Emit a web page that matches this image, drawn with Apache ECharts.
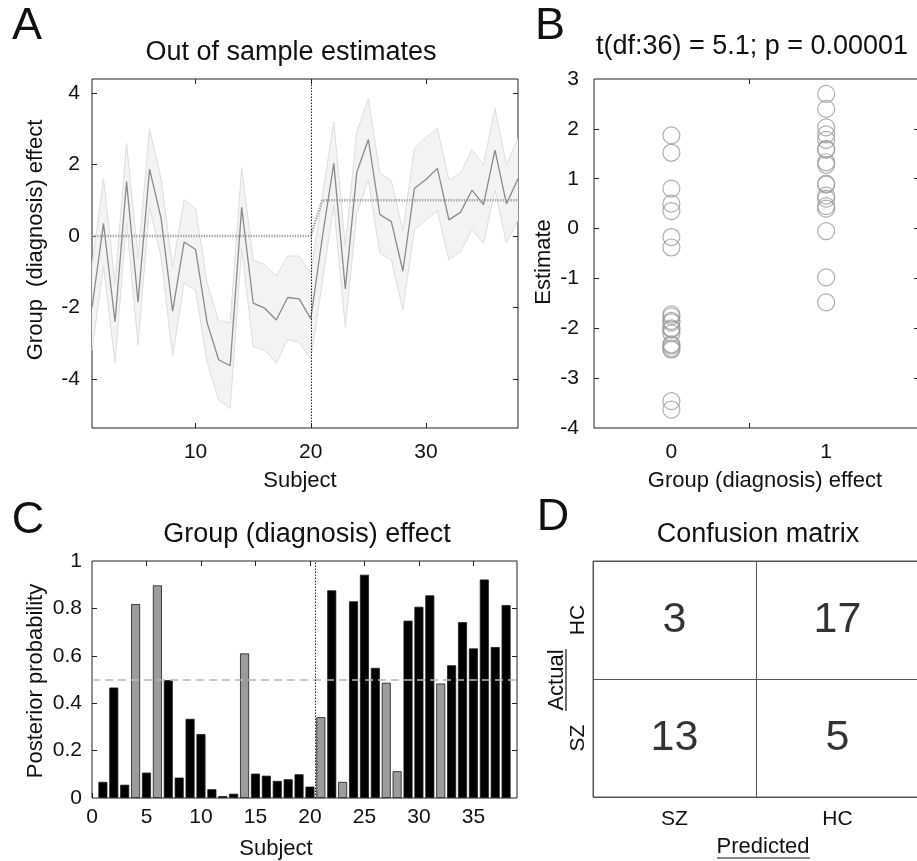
<!DOCTYPE html>
<html>
<head>
<meta charset="utf-8">
<script src="https://cdn.jsdelivr.net/npm/echarts@6/dist/echarts.min.js"></script>
<style>
  html, body { margin: 0; padding: 0; background: #fff; }
  #chart { width: 917px; height: 861px; }
</style>
</head>
<body>
<div id="chart"></div>
<script>
// ---- data ----
const subjects = [1,2,3,4,5,6,7,8,9,10,11,12,13,14,15,16,17,18,19,20,
                  21,22,23,24,25,26,27,28,29,30,31,32,33,34,35,36,37,38];
// true group of each subject (0 = first 20, 1 = last 18)
const groupLabel = [0,0,0,0,0,0,0,0,0,0,0,0,0,0,0,0,0,0,0,0,
                    1,1,1,1,1,1,1,1,1,1,1,1,1,1,1,1,1,1];
// out-of-sample estimate of the group effect per subject
const meanEstimate = [-2.0, 0.35, -2.4, 1.52, -1.85, 1.87, 0.5, -2.1, -0.17, -0.38,
                      -2.43, -3.46, -3.63, 0.8, -1.88, -2.02, -2.35, -1.72, -1.76, -2.32,
                      -0.05, 2.03, -1.48, 1.78, 2.7, 0.6, 0.4, -0.98, 1.33, 1.58,
                      1.89, 0.45, 0.66, 1.28, 0.88, 2.4, 0.9, 1.6];
const upperBound = [-0.85, 1.6, -1.3, 2.6, -0.6, 3.0, 1.6, -0.88, 1.02, 0.76,
                    -1.32, -2.37, -2.42, 1.91, -0.67, -0.8, -1.12, -0.56, -0.56, -1.05,
                    1.1, 3.2, -0.28, 2.92, 3.85, 1.75, 1.55, 0.15, 2.45, 2.75,
                    3.01, 1.57, 1.75, 2.42, 1.99, 3.57, 1.99, 2.73];
const lowerBound = [-3.2, -0.85, -3.55, 0.4, -3.05, 0.82, -0.6, -3.36, -1.32, -1.51,
                    -3.55, -4.59, -4.82, -0.35, -3.1, -3.19, -3.56, -2.89, -2.98, -3.45,
                    -1.3, 0.85, -2.55, 0.63, 1.57, -0.48, -0.67, -2.07, 0.17, 0.45,
                    0.7, -0.67, -0.44, 0.17, -0.2, 1.29, -0.2, 0.45];
// posterior probability of belonging to group 1
const posteriorProb = [0.068, 0.466, 0.056, 0.818, 0.107, 0.897, 0.497, 0.086, 0.334, 0.27,
                       0.037, 0.008, 0.018, 0.61, 0.103, 0.094, 0.072, 0.079, 0.1, 0.048,
                       0.341, 0.876, 0.068, 0.83, 0.942, 0.549, 0.486, 0.113, 0.748, 0.807,
                       0.855, 0.483, 0.56, 0.742, 0.631, 0.922, 0.637, 0.814];
// confusion matrix: [predicted index, actual index, count]
const classNames = ['SZ', 'HC'];
const confusionCells = [[0, 1, 3], [1, 1, 17], [0, 0, 13], [1, 0, 5]];

// tick positions
const aXTicks = [10, 20, 30];
const aYTicks = [-4, -2, 0, 2, 4];
const bXLabels = [0, 1];
const bXTicks = [0.5];
const bYTicks = [-4, -3, -2, -1, 0, 1, 2, 3];
const cXTicks = [0, 5, 10, 15, 20, 25, 30, 35];
const cYTicks = [0, 0.2, 0.4, 0.6, 0.8, 1];

// ---- styling helpers ----
const FONT = '"Liberation Sans", Arial, sans-serif';
const INK = '#111';

function mainAxis(gridIndex, position, min, max, tickVals, labelVals, margin) {
  return {
    type: 'value', gridIndex, position, min, max,
    axisLine: { show: false, onZero: false },
    splitLine: { show: false },
    axisTick: { show: true, inside: true, length: 5, customValues: tickVals,
                lineStyle: { color: '#222', width: 1 } },
    axisLabel: { show: true, customValues: labelVals, margin,
                 fontSize: 21, fontFamily: FONT, color: INK,
                 formatter: v => String(v) }
  };
}
function mirrorAxis(gridIndex, position, min, max, tickVals) {
  return {
    type: 'value', gridIndex, position, min, max,
    axisLine: { show: false, onZero: false },
    splitLine: { show: false },
    axisTick: { show: true, inside: true, length: 5, customValues: tickVals,
                lineStyle: { color: '#222', width: 1 } },
    axisLabel: { show: false }
  };
}
function txt(x, y, text, size, rot) {
  return {
    type: 'text', x, y, rotation: rot || 0, silent: true,
    style: { text, fontSize: size, fontFamily: FONT, fill: INK,
             align: 'center', verticalAlign: 'middle' }
  };
}
function rule(x1, y1, x2, y2) {
  return { type: 'line', silent: true, shape: { x1, y1, x2, y2 },
           style: { stroke: INK, lineWidth: 1.2 } };
}

const frame = { show: true, borderColor: '#222', borderWidth: 1,
                backgroundColor: 'transparent', outerBoundsMode: 'none', containLabel: false };

const misclassified = subjects.map((s, i) => (posteriorProb[i] > 0.5 ? 1 : 0) !== groupLabel[i]);

// shaded band between lowerBound and upperBound, projected through the axes
function renderBand(params, api) {
  const pts = [];
  subjects.forEach((s, i) => pts.push(api.coord([s, upperBound[i]])));
  for (let i = subjects.length - 1; i >= 0; i--) pts.push(api.coord([subjects[i], lowerBound[i]]));
  return { type: 'polygon', shape: { points: pts }, style: { fill: '#f3f3f3', stroke: 'none' } };
}

const option = {
  animation: false,
  backgroundColor: '#fff',
  grid: [
    Object.assign({ left: 92, top: 79, width: 426, height: 349 }, frame),
    Object.assign({ left: 594, top: 79, width: 325, height: 349 }, frame),
    Object.assign({ left: 92, top: 561, width: 425, height: 237 }, frame),
    Object.assign({}, frame, { left: 593, top: 561, width: 326, height: 236, borderColor: '#555' })
  ],
  xAxis: [
    mainAxis(0, 'bottom', 1, 38, aXTicks, aXTicks, 14),
    mirrorAxis(0, 'top', 1, 38, aXTicks),
    mainAxis(1, 'bottom', -0.5, 1.6, bXTicks, bXLabels, 14),
    mirrorAxis(1, 'top', -0.5, 1.6, bXTicks),
    mainAxis(2, 'bottom', 0, 39, cXTicks, cXTicks, 9),
    mirrorAxis(2, 'top', 0, 39, cXTicks.filter(v => v > 0)),
    {
      type: 'category', gridIndex: 3, data: classNames,
      axisLine: { show: false }, axisTick: { show: false },
      splitLine: { show: true, lineStyle: { color: '#555', width: 1 } },
      axisLabel: { margin: 12, fontSize: 21, fontFamily: FONT, color: INK }
    }
  ],
  yAxis: [
    mainAxis(0, 'left', -5.37, 4.39, aYTicks, aYTicks, 12),
    mirrorAxis(0, 'right', -5.37, 4.39, aYTicks),
    mainAxis(1, 'left', -4, 3, bYTicks.filter(v => v > -4 && v < 3), bYTicks, 15),
    mirrorAxis(1, 'right', -4, 3, bYTicks.filter(v => v > -4 && v < 3)),
    mainAxis(2, 'left', 0, 1, cYTicks.filter(v => v > 0 && v < 1), cYTicks, 10),
    mirrorAxis(2, 'right', 0, 1, cYTicks.filter(v => v > 0 && v < 1)),
    {
      type: 'category', gridIndex: 3, data: classNames,
      axisLine: { show: false }, axisTick: { show: false },
      splitLine: { show: true, lineStyle: { color: '#555', width: 1 } },
      axisLabel: { margin: 4, rotate: 90, fontSize: 21, fontFamily: FONT, color: INK }
    }
  ],
  series: [
    // A: credible band
    {
      type: 'custom', xAxisIndex: 0, yAxisIndex: 0, silent: true, z: 1,
      data: [[subjects[0], lowerBound[0]]],
      renderItem: renderBand
    },
    {
      type: 'line', xAxisIndex: 0, yAxisIndex: 0, silent: true, symbol: 'none', z: 2,
      data: subjects.map((s, i) => [s, upperBound[i]]),
      lineStyle: { color: '#dedede', width: 1 }
    },
    {
      type: 'line', xAxisIndex: 0, yAxisIndex: 0, silent: true, symbol: 'none', z: 2,
      data: subjects.map((s, i) => [s, lowerBound[i]]),
      lineStyle: { color: '#dedede', width: 1 }
    },
    // A: true group membership
    {
      type: 'line', xAxisIndex: 0, yAxisIndex: 0, silent: true, symbol: 'none', z: 3,
      data: subjects.map((s, i) => [s, groupLabel[i]]),
      lineStyle: { color: '#a3a3a3', width: 2.5, type: [1.3, 1.3] },
      markLine: {
        silent: true, symbol: ['none', 'none'], label: { show: false },
        lineStyle: { color: '#222', width: 1, type: [1.5, 1.5] },
        data: [{ xAxis: 20 }]
      }
    },
    // A: mean estimate
    {
      type: 'line', xAxisIndex: 0, yAxisIndex: 0, silent: true, symbol: 'none', z: 4,
      data: subjects.map((s, i) => [s, meanEstimate[i]]),
      lineStyle: { color: '#8a8a8a', width: 1.3 }
    },
    // B: estimates by group
    {
      type: 'scatter', xAxisIndex: 2, yAxisIndex: 2, silent: true,
      symbol: 'circle', symbolSize: 17,
      data: subjects.map((s, i) => [groupLabel[i], meanEstimate[i]]),
      itemStyle: { color: 'rgba(255,255,255,0)', borderColor: '#9a9a9a', borderWidth: 1.2 }
    },
    // C: posterior probabilities
    {
      type: 'bar', xAxisIndex: 4, yAxisIndex: 4, silent: true, barWidth: 9,
      data: subjects.map((s, i) => ({
        value: [s, posteriorProb[i]],
        itemStyle: { color: misclassified[i] ? '#9c9c9c' : '#000',
                     borderColor: '#1a1a1a', borderWidth: 0.8 }
      })),
      markLine: {
        silent: true, symbol: ['none', 'none'], label: { show: false },
        data: [
          { yAxis: 0.5, lineStyle: { color: '#b8b8b8', width: 1.6, type: [8, 5] } },
          { xAxis: 20.5, lineStyle: { color: '#222', width: 1, type: [1.5, 1.5] } }
        ]
      }
    },
    // D: confusion counts
    {
      type: 'scatter', xAxisIndex: 6, yAxisIndex: 6, silent: true,
      symbol: 'rect', symbolSize: 1, itemStyle: { color: 'rgba(0,0,0,0)' },
      data: confusionCells,
      label: { show: true, position: 'inside', formatter: p => String(p.value[2]),
               fontSize: 43, fontFamily: FONT, color: '#000' }
    }
  ],
  graphic: [
    txt(27, 27, 'A', 45), txt(550, 27, 'B', 45),
    txt(28, 521, 'C', 45), txt(553, 518, 'D', 45),
    txt(291, 53, 'Out of sample estimates', 27),
    txt(752, 47, 't(df:36) = 5.1; p = 0.00001', 27),
    txt(307, 535, 'Group (diagnosis) effect', 27),
    txt(758, 535, 'Confusion matrix', 27),
    txt(36, 240, 'Group  (diagnosis) effect', 22, Math.PI / 2),
    txt(300, 481, 'Subject', 22),
    txt(544, 262, 'Estimate', 22, Math.PI / 2),
    txt(765, 481, 'Group (diagnosis) effect', 22),
    txt(36, 681, 'Posterior probability', 22, Math.PI / 2),
    txt(276, 849, 'Subject', 22),
    txt(557, 680, 'Actual', 22, Math.PI / 2),
    rule(566, 649, 566, 711),
    txt(763, 847, 'Predicted', 22),
    rule(717, 858, 810, 858)
  ]
};

const chart = echarts.init(document.getElementById('chart'), null, { renderer: 'canvas' });
chart.setOption(option);
</script>
</body>
</html>
